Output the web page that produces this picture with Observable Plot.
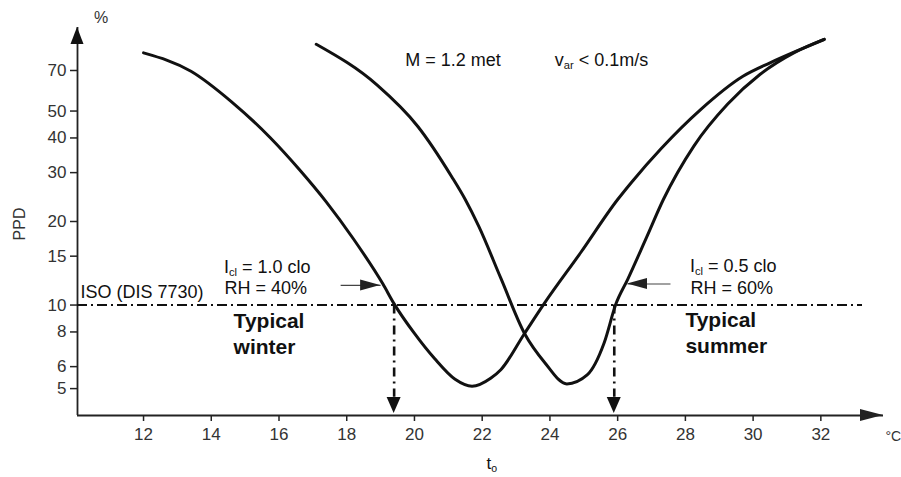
<!DOCTYPE html>
<html><head><meta charset="utf-8">
<script src="https://cdn.jsdelivr.net/npm/d3@7"></script>
<script src="https://cdn.jsdelivr.net/npm/@observablehq/plot@0.6"></script>
<style>
html,body{margin:0;padding:0;background:#fff;}
#chart svg{display:block;}
</style></head><body><div id="chart"></div>
<script>
// Winter clothing (Icl = 1.0 clo, RH = 40%)
const winterT   = [12.0, 13.4, 14.6, 15.75, 16.6, 17.4, 18.2, 19.07, 19.4, 20.0, 20.6, 21.2, 21.7, 22.25, 22.55, 23.25, 23.85, 24.9, 26.0, 26.4, 27.3, 28.45, 29.7, 30.5, 31.4, 32.1];
const winterPPD = [81, 69.6, 54, 40, 30.8, 23.5, 17.3, 11.9, 10.1, 7.9, 6.4, 5.4, 5.1, 5.45, 5.85, 7.9, 10.2, 15.4, 24, 27.6, 36.8, 50.6, 66.7, 74.6, 83.4, 90.6];
// Summer clothing (Icl = 0.5 clo, RH = 60%)
const summerT   = [17.1, 18.9, 20.1, 21.1, 21.5, 21.9, 22.55, 23.25, 23.85, 24.5, 25.1, 25.6, 25.95, 26.3, 26.85, 27.35, 28.25, 29.25, 30.2, 31.2, 32.1];
const summerPPD = [87, 62, 44, 29, 24, 19.2, 12.5, 7.9, 6.2, 5.2, 5.6, 7.3, 10.1, 12.4, 17.5, 24, 37.4, 53.0, 67.7, 81, 90.6];

const xTicks = [12, 14, 16, 18, 20, 22, 24, 26, 28, 30, 32];
const yTicks = [5, 6, 8, 10, 15, 20, 30, 40, 50, 70];
const isoLimit = 10;               // ISO (DIS 7730) PPD limit, %
const comfortTemps = [19.4, 25.9]; // operative temperatures where PPD = 10 %

const xDomain = [10.05, 33.85];
const yDomain = [4, 100];

const winter = winterT.map((t, i) => ({t, ppd: winterPPD[i]}));
const summer = summerT.map((t, i) => ({t, ppd: summerPPD[i]}));

const pointers = [
  {x1: 17.82, x2: 19.0, y: 11.77},
  {x1: 27.56, x2: 26.29, y: 11.91}
];

function decorations(index, scales) {
  const x = scales.x, y = scales.y;
  const g = d3.create("svg:g");
  const tri = (pts, fill) => g.append("path")
    .attr("d", "M" + pts.map(p => p.join(",")).join("L") + "Z").attr("fill", fill);
  const x0 = x(xDomain[0]), x1 = x(xDomain[1]), y0 = y(yDomain[0]), y1 = y(yDomain[1]);
  // axis arrowheads
  tri([[x1, y0], [x1 - 23, y0 - 6], [x1 - 23, y0 + 6]], "#222");
  tri([[x0, y1], [x0 - 6.5, y1 + 17], [x0 + 6.5, y1 + 17]], "#111");
  // downward arrows at comfort temperatures
  for (const t of comfortTemps) {
    const cx = x(t);
    tri([[cx, y0 - 2], [cx - 7, y0 - 18], [cx + 7, y0 - 18]], "#111");
  }
  // pointer heads
  for (const p of pointers) {
    const tx = x(p.x2), ty = y(p.y), dir = Math.sign(p.x2 - p.x1);
    tri([[tx, ty], [tx - dir * 20, ty - 5.5], [tx - dir * 20, ty + 5.5]], "#222");
  }
  // labels with subscripts
  const label = (t, p, parts, anchor, size) => {
    const el = g.append("text").attr("x", x(t)).attr("y", y(p))
      .attr("text-anchor", anchor).attr("font-size", size).attr("fill", "#111");
    let sub = false;
    for (const [s, isSub] of parts) {
      const ts = el.append("tspan").text(s);
      if (isSub) { ts.attr("font-size", size * 0.62).attr("dy", size * 0.16); sub = true; }
      else if (sub) { ts.attr("dy", -size * 0.16); sub = false; }
    }
  };
  label(14.39, 13.0, [["I", false], ["cl", true], [" = 1.0 clo", false]], "start", 18);
  label(28.15, 13.1, [["I", false], ["cl", true], [" = 0.5 clo", false]], "start", 18);
  label(24.16, 72.4, [["v", false], ["ar", true], [" < 0.1m/s", false]], "start", 18);
  label(22.3, 2.55, [["t", false], ["o", true]], "middle", 17);
  return g.node();
}

const chart = Plot.plot({
  width: 901,
  height: 477,
  marginLeft: 77,
  marginRight: 18,
  marginTop: 27,
  marginBottom: 62,
  style: {fontFamily: "'Liberation Sans', Arial, sans-serif", fontSize: "17px", color: "#111", background: "#fff", overflow: "visible"},
  x: {domain: xDomain, axis: null},
  y: {type: "log", domain: yDomain, axis: null},
  marks: [
    Plot.axisX({ticks: xTicks, tickSize: 6, tickPadding: 6, label: null, fontSize: 17, fill: "#333", stroke: "#222", strokeWidth: 1.5, tickFormat: d => String(d)}),
    // y ticks and labels drawn explicitly (log axis would hide 8 and 70)
    Plot.ruleY(yTicks, {x1: xDomain[0] - 7 / 33.87, x2: xDomain[0], stroke: "#222", strokeWidth: 1.5}),
    Plot.text(yTicks, {x: xDomain[0], y: d => d, text: d => String(d), dx: -11, textAnchor: "end", lineAnchor: "middle", fontSize: 17, fill: "#333"}),
    Plot.ruleY([yDomain[0]], {stroke: "#222", strokeWidth: 1.8}),
    Plot.ruleX([xDomain[0]], {stroke: "#222", strokeWidth: 1.8}),
    Plot.ruleY([isoLimit], {x1: xDomain[0], x2: 33.23, stroke: "#111", strokeWidth: 2, strokeDasharray: "10,4,2,4"}),
    Plot.ruleX(comfortTemps, {y1: isoLimit, y2: 4.65, stroke: "#111", strokeWidth: 2.6, strokeDasharray: "9,5,2,5"}),
    Plot.line(winter, {x: "t", y: "ppd", curve: "monotone-x", stroke: "#111", strokeWidth: 3}),
    Plot.line(summer, {x: "t", y: "ppd", curve: "monotone-x", stroke: "#111", strokeWidth: 3}),
    Plot.link(pointers, {x1: "x1", x2: "x2", y1: "y", y2: "y", stroke: "#444", strokeWidth: 1.2}),
    Plot.text(["RH = 40%"], {x: 14.39, y: 10.92, textAnchor: "start", lineAnchor: "bottom", fontSize: 18, fill: "#111"}),
    Plot.text(["RH = 60%"], {x: 28.15, y: 11.0, textAnchor: "start", lineAnchor: "bottom", fontSize: 18, fill: "#111"}),
    Plot.text(["ISO (DIS 7730)"], {x: 10.14, y: 10.56, textAnchor: "start", lineAnchor: "bottom", fontSize: 18, fill: "#111"}),
    Plot.text(["M = 1.2 met"], {x: 19.73, y: 72.4, textAnchor: "start", lineAnchor: "bottom", fontSize: 18, fill: "#111"}),
    Plot.text(["Typical\nwinter"], {x: 14.66, y: 6.64, textAnchor: "start", lineAnchor: "bottom", lineHeight: 1.26, fontSize: 21, fontWeight: "bold", fill: "#111"}),
    Plot.text(["Typical\nsummer"], {x: 28.0, y: 6.7, textAnchor: "start", lineAnchor: "bottom", lineHeight: 1.26, fontSize: 21, fontWeight: "bold", fill: "#111"}),
    Plot.text(["%"], {x: 10.75, y: 103.4, textAnchor: "middle", lineAnchor: "bottom", fontSize: 16, fill: "#333"}),
    Plot.text(["PPD"], {x: 8.337, y: 19.6, rotate: -90, textAnchor: "middle", lineAnchor: "middle", fontSize: 16, fill: "#333"}),
    Plot.text(["°C"], {x: 33.906, y: 3.23, textAnchor: "start", lineAnchor: "bottom", fontSize: 14, fill: "#333"}),
    decorations
  ]
});
document.getElementById("chart").appendChild(chart);
</script>
</body></html>
